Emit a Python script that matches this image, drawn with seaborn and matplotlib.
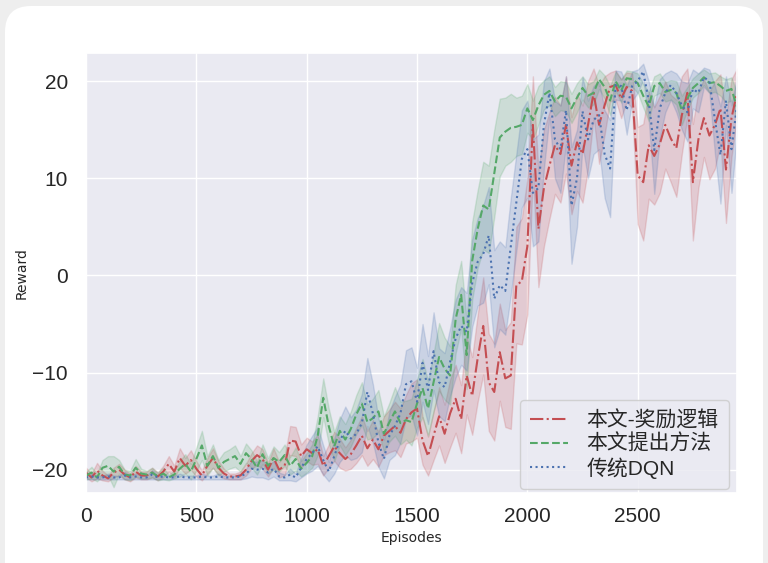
import numpy as np
import pandas as pd
import matplotlib
matplotlib.use("Agg")
import matplotlib.pyplot as plt
from matplotlib.patches import FancyBboxPatch
import seaborn as sns

episodes = list(range(0, 2951, 25))

reward_logic = [
    -20.3, -20.8, -20.1, -20.6, -20.9, -20.3, -20.0, -20.5, -20.8, -20.2,
    -20.6, -20.6, -20.3, -20.7, -20.2, -19.4, -20.2, -18.8, -19.6, -19.0,
    -19.9, -20.6, -19.6, -18.8, -19.8, -20.4, -20.7, -20.7, -20.6, -20.0,
    -19.1, -18.5, -18.9, -20.0, -18.8, -20.0, -19.6, -17.0, -17.1, -18.6,
    -17.9, -18.3, -17.9, -19.6, -18.6, -17.6, -18.3, -18.9, -18.4, -17.5,
    -16.5, -17.8, -16.9, -17.9, -16.5, -16.0, -15.5, -16.2, -14.8, -14.1,
    -13.7, -17.0, -18.6, -16.5, -14.5, -16.3, -14.2, -12.7, -14.8, -10.3,
    -12.4, -8.5, -5.2, -11.0, -12.0, -7.9, -10.6, -10.3, -1.0, -0.6,
    3.0, 15.5, 4.8, 9.0, 11.3, 13.4, 12.5, 15.5, 11.3, 13.7,
    12.5, 15.5, 18.8, 15.5, 17.5, 19.4, 19.6, 18.2, 19.4, 19.0,
    10.3, 9.6, 13.4, 12.3, 13.5, 15.5, 14.1, 13.1, 16.5, 18.8,
    9.6, 14.0, 16.2, 14.4, 15.5, 17.2, 10.9, 16.2, 18.8,
]
reward_logic_spread = [
    0.5, 0.4, 0.8, 0.5, 0.3, 0.5, 0.6, 0.5, 0.4, 0.6,
    0.4, 0.4, 0.5, 0.4, 0.6, 0.8, 0.6, 1.0, 0.8, 1.0,
    0.8, 0.5, 0.8, 1.0, 0.7, 0.5, 0.3, 0.3, 0.4, 0.6,
    0.8, 1.0, 1.0, 0.7, 1.0, 0.8, 1.0, 1.5, 1.5, 1.2,
    1.2, 1.2, 1.5, 1.0, 1.2, 1.5, 1.5, 1.2, 1.5, 1.8,
    2.0, 1.8, 2.0, 1.8, 2.0, 2.2, 2.5, 2.5, 2.5, 3.0,
    3.0, 2.5, 2.0, 2.5, 3.0, 3.0, 3.5, 3.5, 3.5, 4.0,
    4.0, 4.5, 5.0, 5.0, 5.0, 5.0, 5.0, 5.5, 6.0, 6.5,
    7.0, 5.0, 6.0, 6.0, 5.5, 5.0, 5.0, 5.0, 5.0, 5.0,
    5.0, 4.5, 2.5, 4.0, 3.0, 1.5, 1.5, 2.0, 1.5, 1.8,
    5.0, 6.0, 5.5, 5.0, 5.0, 4.5, 4.5, 5.0, 4.0, 2.5,
    6.0, 5.0, 4.0, 4.5, 4.5, 3.5, 5.5, 4.0, 2.5,
]

proposed = [
    -20.6, -20.3, -20.8, -19.8, -19.6, -20.2, -19.7, -20.5, -20.6, -19.8,
    -20.4, -20.5, -20.3, -20.7, -20.4, -20.8, -20.5, -19.9, -19.4, -20.2,
    -18.9, -17.5, -19.6, -18.6, -19.8, -19.2, -18.9, -18.6, -19.4, -18.3,
    -18.9, -19.8, -18.4, -19.6, -18.8, -19.2, -18.5, -19.6, -18.9, -19.9,
    -19.3, -18.6, -16.5, -12.6, -15.5, -17.6, -16.0, -16.9, -15.8, -14.3,
    -13.2, -15.1, -14.7, -14.0, -16.3, -15.1, -14.0, -15.2, -14.9, -15.1,
    -13.2, -11.6, -13.7, -11.0, -8.4, -9.6, -10.3, -4.5, -2.0, -8.2,
    1.5, 4.8, 7.2, 6.8, 10.5, 14.2, 14.8, 15.2, 15.3, 15.5,
    17.2, 16.0, 17.5, 18.6, 19.0, 17.9, 18.5, 18.4, 17.2, 18.3,
    19.3, 18.5, 18.8, 20.2, 19.4, 18.0, 20.0, 19.0, 20.3, 20.2,
    19.8, 18.5, 17.4, 19.5, 19.8, 18.9, 19.1, 18.8, 17.0, 18.2,
    19.3, 19.8, 20.4, 19.8, 19.9, 19.5, 19.0, 19.2, 17.3,
]
proposed_spread = [
    0.4, 0.6, 0.4, 0.8, 1.0, 1.6, 0.7, 0.5, 0.5, 0.9,
    0.5, 0.4, 0.5, 0.4, 0.6, 0.3, 0.4, 0.8, 1.0, 0.8,
    1.2, 1.5, 1.0, 1.2, 0.8, 1.0, 1.0, 1.1, 0.8, 1.0,
    0.9, 0.7, 1.0, 0.8, 1.2, 1.0, 1.1, 0.9, 1.2, 0.8,
    1.0, 1.2, 2.0, 2.0, 1.8, 1.5, 1.5, 1.6, 1.8, 2.0,
    2.2, 1.8, 2.0, 2.2, 1.8, 2.0, 2.5, 2.2, 2.0, 2.4,
    2.5, 3.0, 2.8, 3.0, 3.5, 3.2, 3.0, 3.5, 3.5, 3.5,
    4.0, 4.0, 4.5, 4.5, 4.5, 4.0, 3.5, 3.5, 3.0, 3.0,
    2.5, 2.0, 2.0, 1.5, 1.5, 1.5, 1.5, 1.5, 1.5, 1.5,
    1.2, 1.2, 1.2, 1.0, 1.2, 1.5, 1.0, 1.2, 0.8, 0.8,
    1.0, 1.2, 1.5, 1.0, 1.0, 1.0, 1.0, 1.2, 1.5, 1.2,
    1.0, 1.0, 0.8, 1.0, 1.0, 1.0, 1.2, 1.2, 1.5,
]

dqn = [
    -20.8, -20.7, -20.8, -20.8, -20.7, -20.8, -20.8, -20.6, -20.8, -20.7,
    -20.8, -20.8, -20.5, -20.8, -20.7, -20.8, -20.8, -20.7, -20.8, -20.8,
    -20.8, -20.7, -20.8, -20.8, -20.7, -20.8, -20.8, -20.8, -20.7, -20.4,
    -19.9, -20.0, -19.9, -20.3, -19.9, -20.7, -20.8, -20.5, -20.8, -19.8,
    -18.9, -18.3, -17.6, -19.0, -20.2, -18.6, -17.0, -16.0, -16.8, -16.3,
    -15.2, -12.0, -14.2, -17.2, -18.9, -16.5, -15.5, -14.2, -11.2, -10.9,
    -13.0, -9.0, -11.8, -7.8, -11.0, -11.5, -8.9, -6.5, -5.2, -5.8,
    -0.8, 1.4, 2.2, 4.1, -2.4, -1.0, -1.6, 3.0, 7.5, 12.0,
    13.0, 8.5, 9.0, 15.5, 18.8, 14.0, 13.0, 17.0, 7.2, 10.0,
    16.9, 14.0, 16.0, 16.5, 12.5, 11.0, 19.6, 19.5, 17.0, 19.5,
    20.0, 21.0, 18.0, 12.9, 17.2, 18.8, 19.6, 18.8, 17.5, 16.8,
    19.2, 18.8, 20.4, 20.0, 16.0, 12.4, 18.0, 13.0, 17.5,
]
dqn_spread = [
    0.2, 0.3, 0.2, 0.2, 0.3, 0.2, 0.2, 0.4, 0.2, 0.3,
    0.2, 0.2, 0.5, 0.2, 0.3, 0.2, 0.2, 0.3, 0.2, 0.2,
    0.2, 0.3, 0.2, 0.2, 0.3, 0.2, 0.2, 0.2, 0.3, 0.5,
    0.8, 0.8, 0.9, 0.7, 0.8, 0.4, 0.3, 0.6, 0.4, 1.0,
    1.5, 1.8, 2.0, 1.5, 1.0, 1.8, 2.2, 2.5, 2.2, 2.5,
    3.0, 3.5, 3.0, 2.5, 2.0, 2.5, 3.0, 3.0, 3.5, 3.5,
    3.5, 4.0, 3.5, 4.0, 3.5, 3.5, 3.5, 4.0, 4.0, 4.0,
    4.5, 4.5, 5.0, 5.0, 5.0, 4.5, 4.5, 5.0, 5.0, 5.0,
    5.0, 5.5, 5.5, 4.5, 2.5, 4.0, 4.5, 3.5, 6.0, 5.0,
    3.5, 4.0, 3.5, 3.5, 4.5, 5.0, 1.5, 1.5, 2.5, 1.5,
    1.2, 0.8, 2.0, 4.5, 3.0, 2.0, 1.5, 2.0, 2.5, 3.0,
    2.0, 2.0, 1.0, 1.2, 3.5, 5.0, 2.5, 4.5, 3.0,
]

labels = ["本文-奖励逻辑", "本文提出方法", "传统DQN"]
x_ticks = [0, 500, 1000, 1500, 2000, 2500]
y_ticks = [-20, -10, 0, 10, 20]

sns.set_theme(style="darkgrid")
plt.rcParams["font.family"] = ["Liberation Sans", "Noto Sans CJK SC", "DejaVu Sans"]
plt.rcParams["axes.unicode_minus"] = True

pal = sns.color_palette("deep")
colors = [pal[3], pal[2], pal[0]]
styles = ["-.", "--", ":"]

fig = plt.figure(figsize=(7.68, 5.63), dpi=100)
fig.patch.set_facecolor("#eeeeee")
card = FancyBboxPatch((0.05, -0.4), 7.58, 6.0 - 0.03,
                      boxstyle="round,pad=0,rounding_size=0.26",
                      transform=fig.dpi_scale_trans, facecolor="white",
                      edgecolor="none", zorder=-10)
fig.add_artist(card)

ax = fig.add_axes([86 / 768, 1 - 493 / 563, (737 - 86) / 768, (493 - 53) / 563])
ax.set_zorder(1)

series = [(reward_logic, reward_logic_spread), (proposed, proposed_spread), (dqn, dqn_spread)]
for (mean, spread), lab, col, ls in zip(series, labels, colors, styles):
    m = np.array(mean)
    s = np.array(spread)
    df = pd.DataFrame({
        "Episodes": episodes + episodes,
        "Reward": list(m - s) + list(m + s),
    })
    sns.lineplot(data=df, x="Episodes", y="Reward", estimator="mean",
                 errorbar=("pi", 100), color=col, linestyle=ls,
                 linewidth=1.5, label=lab, ax=ax)

ax.set_xlim(0, 2950)
ax.set_ylim(-22.4, 22.9)
ax.set_xticks(x_ticks)
ax.set_yticks(y_ticks)
ax.tick_params(axis="x", labelsize=15, pad=4)
ax.tick_params(axis="y", labelsize=15, pad=7)
ax.set_xlabel("Episodes", fontsize=10, labelpad=4, family=["DejaVu Sans"])
ax.set_ylabel("Reward", fontsize=10, labelpad=3, family=["DejaVu Sans"])

leg = ax.legend(loc="lower right", bbox_to_anchor=(0.988, 0.009),
                borderaxespad=0, fontsize=15, handlelength=1.8,
                labelspacing=0.15, handletextpad=0.9, borderpad=0.5,
                frameon=True)
leg.get_frame().set_facecolor("#EAEAF2")
leg.get_frame().set_alpha(0.85)
leg.get_frame().set_edgecolor("#cccccc")

fig.savefig("out.png", dpi=100, facecolor=fig.get_facecolor())
